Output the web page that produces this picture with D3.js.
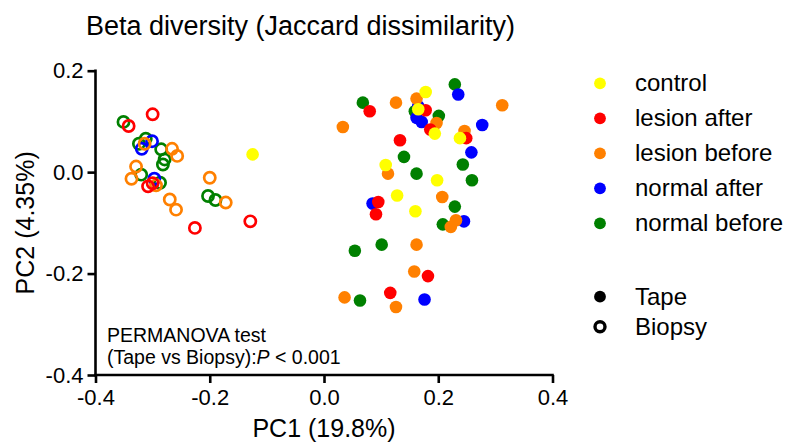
<!DOCTYPE html>
<html>
<head>
<meta charset="utf-8">
<script src="https://cdn.jsdelivr.net/npm/d3@7"></script>
<style>
  body { margin: 0; background: #fff; }
  svg { font-family: "Liberation Sans", Arial, sans-serif; }
</style>
</head>
<body>
<div id="chart"></div>
<script>
// groups, legend order
var groups = ["control", "lesion after", "lesion before", "normal after", "normal before"];
var colors = ["#ffff00", "#ff0000", "#ff8000", "#0000ff", "#008000"];
var xTicks = [-0.4, -0.2, 0.0, 0.2, 0.4];
var yTicks = [-0.4, -0.2, 0.0, 0.2];

// [group, PC1, PC2]
var tapePoints = [
  ["normal before", 0.068, 0.137], ["normal before", 0.159, 0.120], ["normal before", 0.201, 0.111],
  ["normal before", 0.229, 0.173], ["normal before", 0.140, 0.030], ["normal before", 0.162, -0.003],
  ["normal before", 0.243, 0.015], ["normal before", 0.259, -0.016], ["normal before", 0.229, -0.068],
  ["normal before", 0.208, -0.103], ["normal before", 0.101, -0.143], ["normal before", 0.054, -0.155],
  ["normal before", 0.063, -0.253],
  ["normal after", 0.165, 0.130], ["normal after", 0.162, 0.107], ["normal after", 0.171, 0.099],
  ["normal after", 0.235, 0.153], ["normal after", 0.277, 0.093], ["normal after", 0.258, 0.039],
  ["normal after", 0.085, -0.062], ["normal after", 0.245, -0.097], ["normal after", 0.176, -0.251],
  ["lesion before", 0.126, 0.137], ["lesion before", 0.033, 0.089], ["lesion before", 0.162, 0.145],
  ["lesion before", 0.197, 0.097], ["lesion before", 0.312, 0.132], ["lesion before", 0.246, 0.081],
  ["lesion before", 0.112, -0.003], ["lesion before", 0.207, -0.049], ["lesion before", 0.231, -0.095],
  ["lesion before", 0.222, -0.108], ["lesion before", 0.162, -0.143], ["lesion before", 0.158, -0.196],
  ["lesion before", 0.036, -0.247], ["lesion before", 0.126, -0.266],
  ["lesion after", 0.080, 0.120], ["lesion after", 0.178, 0.122], ["lesion after", 0.186, 0.084],
  ["lesion after", 0.249, 0.067], ["lesion after", 0.133, 0.063], ["lesion after", 0.095, -0.059],
  ["lesion after", 0.091, -0.083], ["lesion after", 0.182, -0.205], ["lesion after", 0.116, -0.238],
  ["control", 0.178, 0.158], ["control", 0.165, 0.124], ["control", 0.194, 0.076],
  ["control", 0.238, 0.067], ["control", 0.108, 0.014], ["control", 0.198, -0.016],
  ["control", 0.128, -0.046], ["control", 0.160, -0.077], ["control", -0.125, 0.035]
];

var biopsyPoints = [
  ["normal before", -0.351, 0.099], ["normal before", -0.324, 0.056], ["normal before", -0.312, 0.066],
  ["normal before", -0.285, 0.045], ["normal before", -0.279, 0.025], ["normal before", -0.282, 0.015],
  ["normal before", -0.320, -0.005], ["normal before", -0.287, -0.021], ["normal before", -0.203, -0.047],
  ["normal before", -0.190, -0.055],
  ["normal after", -0.301, 0.061], ["normal after", -0.319, 0.046], ["normal after", -0.297, -0.013],
  ["lesion before", -0.314, 0.056], ["lesion before", -0.266, 0.046], ["lesion before", -0.257, 0.032],
  ["lesion before", -0.329, 0.011], ["lesion before", -0.337, -0.013], ["lesion before", -0.294, -0.026],
  ["lesion before", -0.270, -0.054], ["lesion before", -0.259, -0.074], ["lesion before", -0.200, -0.011],
  ["lesion before", -0.172, -0.060],
  ["lesion after", -0.300, 0.114], ["lesion after", -0.342, 0.091], ["lesion after", -0.308, -0.028],
  ["lesion after", -0.300, -0.022], ["lesion after", -0.226, -0.110], ["lesion after", -0.129, -0.097]
];

var width = 789, height = 445;
var plotLeft = 95.5, plotRight = 552.5, plotTop = 70.7, plotBottom = 375;

var x = d3.scaleLinear().domain([-0.4, 0.4]).range([plotLeft, plotRight]);
var y = d3.scaleLinear().domain([-0.4, 0.2]).range([plotBottom, plotTop]);
var color = d3.scaleOrdinal().domain(groups).range(colors);

var svg = d3.select("#chart").append("svg")
  .attr("width", width)
  .attr("height", height);

svg.append("text")
  .attr("x", 86).attr("y", 35)
  .attr("font-size", 27)
  .text("Beta diversity (Jaccard dissimilarity)");

// points
svg.append("g").selectAll("circle")
  .data(biopsyPoints)
  .join("circle")
    .attr("cx", d => x(d[1]))
    .attr("cy", d => y(d[2]))
    .attr("r", 5.6)
    .attr("fill", "none")
    .attr("stroke", d => color(d[0]))
    .attr("stroke-width", 2.7);

svg.append("g").selectAll("circle")
  .data(tapePoints)
  .join("circle")
    .attr("cx", d => x(d[1]))
    .attr("cy", d => y(d[2]))
    .attr("r", 6.3)
    .attr("fill", d => color(d[0]));

// axes, hyphen minus like the original
var fmt = d => d3.format(".1f")(d).replace("\u2212", "-");
var xAxis = svg.append("g")
  .attr("transform", "translate(0," + plotBottom + ")")
  .call(d3.axisBottom(x).tickValues(xTicks).tickFormat(fmt).tickSizeOuter(0).tickSize(8).tickPadding(6));
var yAxis = svg.append("g")
  .attr("transform", "translate(" + plotLeft + ",0)")
  .call(d3.axisLeft(y).tickValues(yTicks).tickFormat(fmt).tickSizeOuter(0).tickSize(8).tickPadding(4));

[xAxis, yAxis].forEach(function(a) {
  a.attr("font-family", null).attr("font-size", 22);
  a.selectAll("path, line").attr("stroke", "#000").attr("stroke-width", 2.6);
  a.selectAll("text").attr("fill", "#000");
});
xAxis.select(".domain").attr("d", "M" + (plotLeft - 1.3) + ",0H" + (plotRight + 1.3));
yAxis.select(".domain").attr("d", "M0," + (plotTop - 1.3) + "V" + (plotBottom + 1.3));

svg.append("text")
  .attr("x", (plotLeft + plotRight) / 2).attr("y", 437)
  .attr("text-anchor", "middle")
  .attr("font-size", 25)
  .text("PC1 (19.8%)");

svg.append("text")
  .attr("transform", "translate(34," + ((plotTop + plotBottom) / 2) + ") rotate(-90)")
  .attr("text-anchor", "middle")
  .attr("font-size", 25)
  .text("PC2 (4.35%)");

// PERMANOVA note
svg.append("text")
  .attr("x", 107).attr("y", 341.5)
  .attr("font-size", 19.5)
  .text("PERMANOVA test");
var note = svg.append("text")
  .attr("x", 107).attr("y", 363.5)
  .attr("font-size", 19.5);
note.append("tspan").text("(Tape vs Biopsy):");
note.append("tspan").attr("font-style", "italic").text("P");
note.append("tspan").text(" < 0.001");

// legend
var legend = svg.append("g");
var rowY = d3.scalePoint().domain(groups).range([83.3, 223.3]);
groups.forEach(function(g) {
  legend.append("circle")
    .attr("cx", 600).attr("cy", rowY(g)).attr("r", 5.9)
    .attr("fill", color(g));
  legend.append("text")
    .attr("x", 635).attr("y", rowY(g)).attr("dy", "0.33em")
    .attr("font-size", 24)
    .text(g);
});
legend.append("circle")
  .attr("cx", 600).attr("cy", 296.7).attr("r", 5.9).attr("fill", "#000");
legend.append("text")
  .attr("x", 635).attr("y", 296.7).attr("dy", "0.33em")
  .attr("font-size", 24).text("Tape");
legend.append("circle")
  .attr("cx", 600).attr("cy", 326.7).attr("r", 5)
  .attr("fill", "none").attr("stroke", "#000").attr("stroke-width", 3.4);
legend.append("text")
  .attr("x", 635).attr("y", 326.7).attr("dy", "0.33em")
  .attr("font-size", 24).text("Biopsy");
</script>
</body>
</html>
